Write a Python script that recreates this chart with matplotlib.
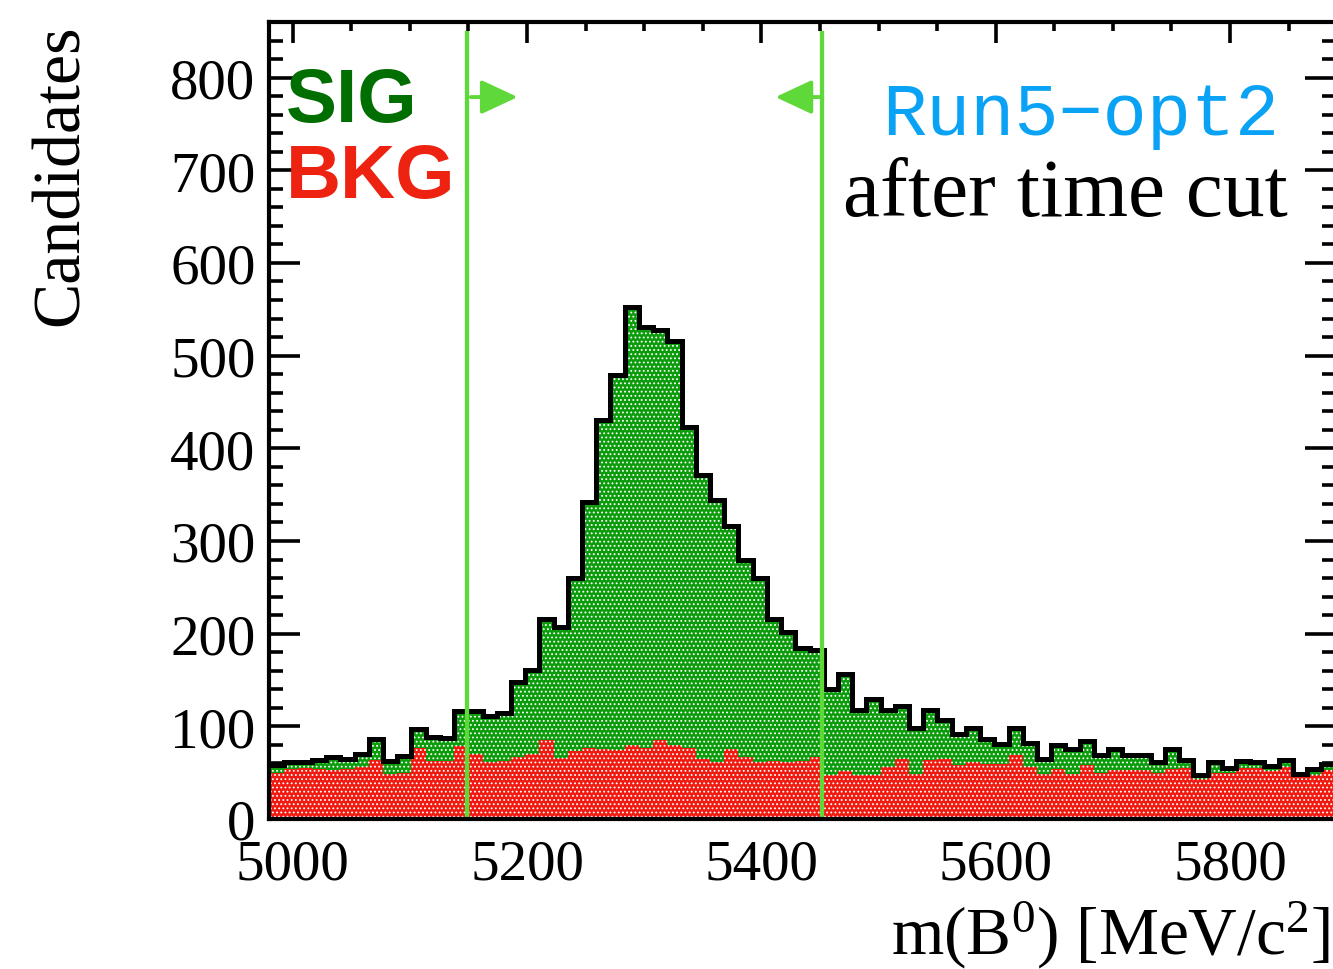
import matplotlib
matplotlib.use('Agg')
import matplotlib.pyplot as plt
import numpy as np
from matplotlib.ticker import MultipleLocator, FixedLocator

# ---------------- data ----------------
x_lo, x_hi, n_bins = 4980.0, 5890.0, 75

total_counts = [58, 62, 62, 64, 67, 65, 70, 86, 63, 68,
                97, 89, 87, 116, 117, 111, 114, 148, 161, 216,
                207, 260, 342, 431, 479, 553, 531, 528, 516, 423,
                371, 344, 316, 279, 260, 216, 202, 184, 182, 140,
                157, 118, 129, 118, 122, 98, 118, 107, 92, 98,
                86, 81, 98, 82, 65, 80, 76, 84, 69, 75,
                69, 69, 61, 75, 64, 47, 61, 55, 63, 62,
                57, 64, 49, 54, 59]

bkg_counts = [50, 54, 55, 54, 53, 54, 56, 64, 49, 50,
              77, 63, 63, 79, 70, 61, 63, 67, 70, 85,
              66, 73, 77, 75, 74, 80, 77, 85, 80, 77,
              65, 62, 76, 67, 62, 63, 62, 63, 67, 47,
              52, 48, 48, 56, 65, 49, 64, 65, 58, 62,
              59, 59, 69, 56, 49, 54, 49, 58, 50, 53,
              53, 53, 50, 54, 55, 43, 50, 50, 55, 55,
              52, 56, 45, 47, 53]

cut_low, cut_high = 5149.0, 5452.0
cut_top = 850.0
arrow_y = 779.0
arrow_len = 40.0

x_ticks = [5000, 5200, 5400, 5600, 5800]
y_ticks = [0, 100, 200, 300, 400, 500, 600, 700, 800]
y_max = 860.0

# ---------------- style ----------------
plt.rcParams['font.family'] = ['Liberation Serif', 'DejaVu Serif']
plt.rcParams['mathtext.fontset'] = 'custom'
plt.rcParams['mathtext.rm'] = 'Liberation Serif'
plt.rcParams['mathtext.it'] = 'Liberation Serif:italic'
plt.rcParams['mathtext.bf'] = 'Liberation Serif:bold'
plt.rcParams['hatch.linewidth'] = 0.8

W, H = 1333, 970
fig = plt.figure(figsize=(W / 100, H / 100), dpi=100)

def fx(px):
    return px / W

def fy(py):
    return 1 - py / H

ax_l, ax_r, ax_t, ax_b = 269.3, 1335.5, 23.0, 820.0
ax = fig.add_axes([fx(ax_l), fy(ax_b), (ax_r - ax_l) / W, (ax_b - ax_t) / H])

edges = np.linspace(x_lo, x_hi, n_bins + 1)

green = '#0b9c0b'
red = '#f01a10'
cut_col = '#5fd83a'

ax.stairs(total_counts, edges, fill=True, facecolor=green, edgecolor='white',
          hatch='....', linewidth=0, zorder=1)
ax.stairs(bkg_counts, edges, fill=True, facecolor=red, edgecolor='white',
          hatch='....', linewidth=0, zorder=2)
ax.stairs(total_counts, edges, fill=False, baseline=None, color='black',
          linewidth=3.6, zorder=3)

for c in (cut_low, cut_high):
    ax.plot([c, c], [0, cut_top], color=cut_col, lw=3.1, zorder=4, solid_capstyle='butt')

arrow_kw = dict(arrowstyle='-|>,head_length=0.9,head_width=0.42', color=cut_col,
                lw=2.8, mutation_scale=25, shrinkA=0, shrinkB=0)
ax.annotate('', xy=(cut_low + 3 + arrow_len, arrow_y), xytext=(cut_low + 3, arrow_y),
            arrowprops=arrow_kw, zorder=5)
ax.annotate('', xy=(cut_high - arrow_len, arrow_y), xytext=(cut_high, arrow_y),
            arrowprops=arrow_kw, zorder=5)

ax.set_xlim(x_lo, x_hi)
ax.set_ylim(0, y_max)
ax.xaxis.set_major_locator(FixedLocator(x_ticks))
ax.xaxis.set_minor_locator(MultipleLocator(50))
ax.yaxis.set_major_locator(FixedLocator(y_ticks))
ax.yaxis.set_minor_locator(MultipleLocator(20))
ax.set_xticklabels([str(t) for t in x_ticks])
ax.set_yticklabels([str(t) for t in y_ticks])

ax.tick_params(which='both', direction='in', top=True, right=True, width=2.6,
               labelsize=41, colors='black')
ax.xaxis.set_tick_params(which='major', length=15, pad=14)
ax.xaxis.set_tick_params(which='minor', length=6.5)
ax.yaxis.set_tick_params(which='major', length=22, pad=10)
ax.yaxis.set_tick_params(which='minor', length=10)
for s in ax.spines.values():
    s.set_linewidth(3.0)
    s.set_zorder(6)

# ---------------- texts ----------------
fig.text(fx(61), fy(24), 'Candidates', rotation=90, ha='center', va='top', fontsize=49)
fig.text(fx(1330), fy(955), r'm(B$^{0}$) [MeV/c$^{2}$]', ha='right', va='baseline',
         fontsize=48.5)

fig.text(fx(286), fy(121.7), 'SIG', ha='left', va='baseline', family='Liberation Sans',
         fontweight='bold', color='#006e00', fontsize=55)
fig.text(fx(286), fy(198.3), 'BKG', ha='left', va='baseline', family='Liberation Sans',
         fontweight='bold', color='#ee2210', fontsize=55)
fig.text(fx(1279), fy(135.2), 'Run5\u2212opt2', ha='right', va='baseline',
         family=['Liberation Mono', 'DejaVu Sans Mono'], color='#0aa2f5', fontsize=53)
fig.text(fx(1288), fy(216), 'after time cut', ha='right', va='baseline', fontsize=60)

fig.savefig('out.png', dpi=100)
